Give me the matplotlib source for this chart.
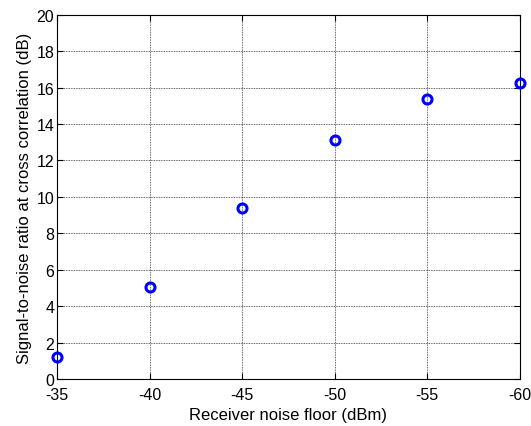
import numpy as np
import matplotlib.pyplot as plt

plt.rcParams['font.family'] = ['Liberation Sans', 'DejaVu Sans']
plt.rcParams['axes.unicode_minus'] = False

# data
noise_floor = [-35, -40, -45, -50, -55, -60]
snr_db = [1.2, 5.05, 9.4, 13.12, 15.36, 16.25]

fig = plt.figure(figsize=(5.31, 4.27), dpi=100)
ax = fig.add_axes([0.1073, 0.110, 0.8717, 0.853])

ax.plot(noise_floor, snr_db, 'o', color='blue', markerfacecolor='none',
        markersize=6.5, markeredgewidth=2.2, clip_on=False, zorder=3)

ax.set_xlim(-35, -60)
ax.set_ylim(0, 20)
ax.set_xticks(np.arange(-35, -61, -5))
ax.set_yticks(np.arange(0, 21, 2))
ax.grid(True, color='black', linestyle=(0, (1, 1)), linewidth=0.6, alpha=0.8)
ax.tick_params(direction='in', top=True, right=True, length=4, labelsize=11.5)
ax.tick_params(axis='x', pad=6)
ax.tick_params(axis='y', pad=2)
for s in ax.spines.values():
    s.set_linewidth(0.8)

ax.set_xlabel('Receiver noise floor (dBm)', fontsize=12, labelpad=3)
ax.set_ylabel('Signal-to-noise ratio at cross correlation (dB)', fontsize=12, labelpad=3)

fig.savefig('out.png', dpi=100)
